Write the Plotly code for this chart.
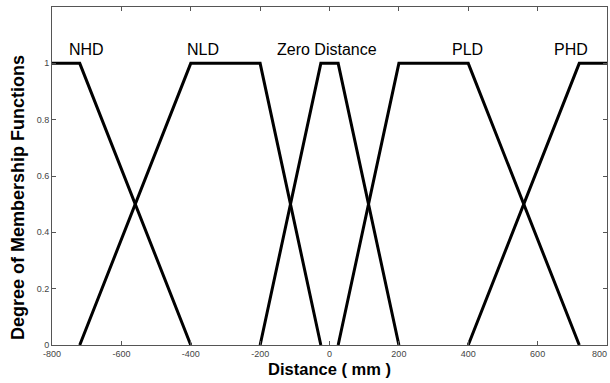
import plotly.graph_objects as go

# Trapezoidal membership functions: breakpoints (mm) and membership grades
nhd_x = [-800, -720, -400]
nhd_y = [1, 1, 0]
nld_x = [-720, -400, -200, -25]
nld_y = [0, 1, 1, 0]
zero_x = [-200, -25, 25, 200]
zero_y = [0, 1, 1, 0]
pld_x = [25, 200, 400, 720]
pld_y = [0, 1, 1, 0]
phd_x = [400, 720, 800]
phd_y = [0, 1, 1]

labels = ["NHD", "NLD", "Zero Distance", "PLD", "PHD"]
label_x = [-700, -365, -7, 399, 696]
label_y = [1.05, 1.05, 1.05, 1.05, 1.05]

x_ticks = [-800, -600, -400, -200, 0, 200, 400, 600, 800]
y_ticks = [0, 0.2, 0.4, 0.6, 0.8, 1]

FONT = "Liberation Sans, Arial"
TICK_FONT = dict(family=FONT, size=9, color="#444444")

fig = go.Figure()
for xs, ys in [(nhd_x, nhd_y), (nld_x, nld_y), (zero_x, zero_y),
               (pld_x, pld_y), (phd_x, phd_y)]:
    fig.add_trace(go.Scatter(x=xs, y=ys, mode="lines",
                             line=dict(color="black", width=3),
                             showlegend=False, hoverinfo="skip"))

for t, lx, ly in zip(labels, label_x, label_y):
    fig.add_annotation(x=lx, y=ly, xref="x", yref="y", text=t,
                       showarrow=False,
                       font=dict(family=FONT, size=16, color="black"))

# last x tick label, kept inside the page at the right edge
fig.add_annotation(x=x_ticks[-1], y=0, xref="x", yref="y", text=str(x_ticks[-1]),
                   showarrow=False, yanchor="top", xanchor="right", yshift=-2, xshift=2,
                   font=TICK_FONT)

# y-axis title, placed a little below the plot's vertical centre
fig.add_annotation(x=-0.061, y=0.435, xref="paper", yref="paper",
                   text="<b>Degree of Membership Functions</b>", textangle=-90,
                   showarrow=False, xanchor="center", yanchor="middle",
                   font=dict(family=FONT, size=18, color="black"))

axis_common = dict(showline=True, linecolor="#555555", linewidth=1, mirror="ticks",
                   ticks="inside", ticklen=4, tickcolor="#555555",
                   showgrid=False, zeroline=False, tickfont=TICK_FONT)

fig.update_xaxes(range=[-800, 800], tickvals=x_ticks,
                 ticktext=[str(v) for v in x_ticks[:-1]] + [""],
                 title=dict(text="<b>Distance ( mm )</b>", standoff=5,
                            font=dict(family=FONT, size=16.5, color="black")),
                 **axis_common)
fig.update_yaxes(range=[0, 1.2], tickvals=y_ticks,
                 ticktext=["0", "0.2", "0.4", "0.6", "0.8", "1"],
                 **axis_common)

fig.update_layout(width=610, height=383, margin=dict(l=52, r=3, t=7, b=38),
                  plot_bgcolor="white", paper_bgcolor="white")

fig.write_html("out.html")
